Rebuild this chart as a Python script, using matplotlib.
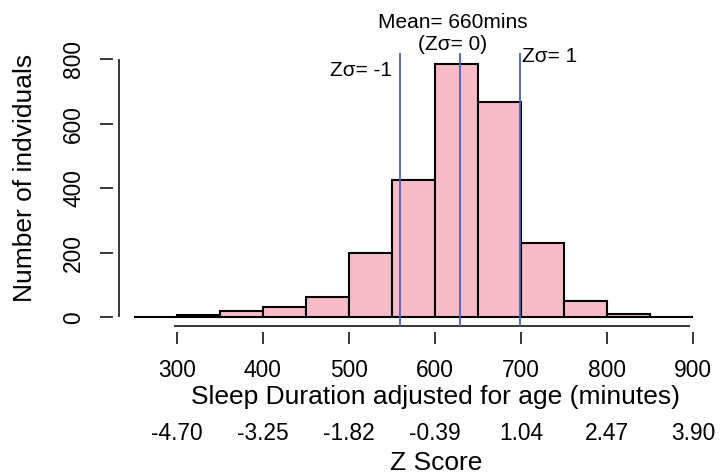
import numpy as np
import matplotlib
matplotlib.use("Agg")
import matplotlib.pyplot as plt

# ---- data ----
bin_edges = [250, 300, 350, 400, 450, 500, 550, 600, 650, 700, 750, 800, 850, 900]
counts = [3, 8, 20, 33, 64, 201, 426, 785, 666, 232, 51, 12, 3]
x_ticks = [300, 400, 500, 600, 700, 800, 900]
z_labels = ["-4.70", "-3.25", "-1.82", "-0.39", "1.04", "2.47", "3.90"]
y_ticks = [0, 200, 400, 600, 800]
vlines = [558.8, 628.7, 698.6]
vline_labels = ["Z\u03c3= -1", "(Z\u03c3= 0)", "Z\u03c3= 1"]

plt.rcParams['font.family'] = ['Liberation Sans', 'DejaVu Sans']

W, H = 722, 474
fig = plt.figure(figsize=(W / 100, H / 100), dpi=100)
ax = fig.add_axes([0, 0, 1, 1])
ax.set_xlim(94.77, 933.3)
ax.set_ylim(-484.7, 983.3)
ax.axis('off')

lefts = bin_edges[:-1]
widths = np.diff(bin_edges)
ax.bar(lefts, counts, width=widths, align='edge', color='#f8bcc8',
       edgecolor='black', linewidth=1.5, zorder=2)

blue = '#4a62b8'
for xv in vlines:
    ax.plot([xv, xv], [-26.3, 819], color=blue, lw=1.3, zorder=3, solid_capstyle='butt')

fs_ann = 15
ax.text(620.9, 896.6, "Mean= 660mins", ha='center', va='baseline', fontsize=fs_ann)
ax.text(620.3, 828.4, vline_labels[1], ha='center', va='baseline', fontsize=fs_ann)
ax.text(550.1, 747.9, vline_labels[0], ha='right', va='baseline', fontsize=fs_ann)
ax.text(701.0, 791.3, vline_labels[2], ha='left', va='baseline', fontsize=fs_ann)

fs_tick = 16.4
fs_lab = 19
lw_ax = 1.1
# x axis
ax.plot([297, 896], [-26.3, -26.3], color='black', lw=lw_ax, solid_capstyle='butt')
for xt, zl in zip(x_ticks, z_labels):
    ax.plot([xt, xt], [-44, -82], color='black', lw=lw_ax, solid_capstyle='butt')
    ax.text(xt, -183.3, str(xt), ha='center', va='baseline', fontsize=fs_tick)
    ax.text(xt, -379.4, zl, ha='center', va='baseline', fontsize=fs_tick)
ax.text(601, -267.9, "Sleep Duration adjusted for age (minutes)", ha='center',
        va='baseline', fontsize=fs_lab)
ax.text(601, -472.3, "Z Score", ha='center', va='baseline', fontsize=fs_lab)

# y axis
ax.plot([233.0, 233.0], [0, 800], color='black', lw=lw_ax, solid_capstyle='butt')
for yt in y_ticks:
    ax.plot([210.9, 226.0], [yt, yt], color='black', lw=lw_ax, solid_capstyle='butt')
    ax.text(187.7, yt, str(yt), rotation=90, rotation_mode='anchor',
            ha='center', va='baseline', fontsize=fs_tick)
ax.text(131.9, 432, "Number of indviduals", rotation=90, rotation_mode='anchor',
        ha='center', va='baseline', fontsize=fs_lab)

fig.savefig("out.png", dpi=100)
